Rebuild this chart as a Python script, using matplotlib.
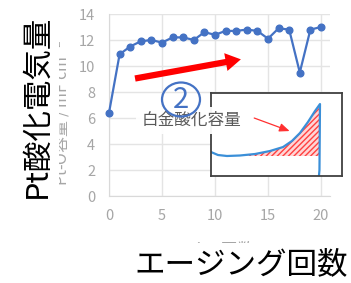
import matplotlib
matplotlib.use('Agg')
import matplotlib.pyplot as plt
from matplotlib.patches import Ellipse

plt.rcParams['font.family'] = ['Noto Sans CJK JP', 'DejaVu Sans']

# main series: Pt oxide charge vs aging cycles
cycles = list(range(21))
charge = [6.4, 10.9, 11.5, 11.9, 12.0, 11.8, 12.2, 12.2, 12.0, 12.6, 12.4,
          12.7, 12.7, 12.8, 12.7, 12.1, 12.9, 12.8, 9.5, 12.8, 13.0]
xticks = [0, 5, 10, 15, 20]
yticks = [0, 2, 4, 6, 8, 10, 12, 14]

# inset sketch (schematic CV curve, axes fraction units)
inset_x = [0.0, 0.053, 0.122, 0.221, 0.336, 0.45, 0.55, 0.618, 0.679, 0.74, 0.794, 0.832, 0.828, 0.824]
inset_y = [0.289, 0.253, 0.241, 0.247, 0.265, 0.301, 0.349, 0.422, 0.518, 0.65, 0.783, 0.867, 0.072, 0.0]
fill_x = [0.122, 0.221, 0.336, 0.45, 0.55, 0.618, 0.679, 0.74, 0.794, 0.832]
fill_y = [0.241, 0.247, 0.265, 0.301, 0.349, 0.422, 0.518, 0.65, 0.783, 0.867]
base_y = 0.241

W, H = 351, 283
def fx(px): return px / W
def fy(py): return 1 - py / H

fig = plt.figure(figsize=(3.51, 2.83), dpi=100)
fig.patch.set_facecolor('white')

blue = '#4472C4'
grey = '#A6A6A6'

ax = fig.add_axes([fx(109), fy(196), fx(330) - fx(109), fy(14) - fy(196)])
ax.plot(cycles, charge, color=blue, lw=1.6, marker='o', ms=4.8, clip_on=False, zorder=3)
ax.set_xlim(0, 20.85)
ax.set_ylim(0, 14)
ax.set_xticks(xticks)
ax.set_yticks(yticks)
ax.grid(True, color='#E4E4E4', lw=1.0)
ax.set_axisbelow(True)
for s in ['top', 'right']:
    ax.spines[s].set_visible(False)
for s in ['left', 'bottom']:
    ax.spines[s].set_color('#D9D9D9')
ax.tick_params(length=0, labelsize=10.5, labelcolor=grey, pad=9)
ax.tick_params(axis='y', pad=10)

# original small axis titles, partly covered
fig.text(fx(216), fy(250), 'Aging回数', fontsize=12, color=grey, ha='center', va='center')
fig.text(fx(62), fy(113), 'Pt-O容量 / mF cm$^{-2}$', fontsize=11.5, color=grey,
         rotation=90, ha='center', va='center')

# big overlay titles with white boxes
fig.text(fx(241), fy(265), 'エージング回数', fontsize=22, color='black', ha='center', va='center',
         bbox=dict(boxstyle='square,pad=0.2', fc='white', ec='none'))
fig.text(fx(37), fy(106), 'Pt酸化電気量', fontsize=22, color='black', rotation=90,
         ha='center', va='center',
         bbox=dict(boxstyle='square,pad=0.2', fc='white', ec='none'))

# red trend arrow
ax.annotate('', xy=(12.7, 10.55), xytext=(2.2, 9.0), xycoords='data',
            arrowprops=dict(arrowstyle='simple,head_width=1.3,head_length=1.1,tail_width=0.45',
                            fc='#FF0000', ec='#FF0000', lw=0), annotation_clip=False)

# inset box
iax = fig.add_axes([fx(211), fy(176), fx(342) - fx(211), fy(93) - fy(176)])
iax.set_xlim(0, 1)
iax.set_ylim(0, 1)
iax.set_xticks([])
iax.set_yticks([])
for s in iax.spines.values():
    s.set_color('#404040')
    s.set_linewidth(1.3)
iax.fill_between(fill_x, [base_y] * len(fill_x), fill_y, facecolor='#FFD6D6',
                 edgecolor='#FF4040', hatch='//////', linewidth=0)
iax.plot(inset_x, inset_y, color='#3A8FD8', lw=1.6)
iax.annotate('', xy=(0.62, 0.53), xytext=(0.31, 0.71),
             arrowprops=dict(arrowstyle='-|>,head_width=0.25,head_length=0.6',
                             color='#FF3030', lw=0.9))

# inset label with white box
fig.text(fx(191), fy(120), '白金酸化容量', fontsize=12, color='#595959', ha='center', va='center',
         bbox=dict(boxstyle='square,pad=0.3', fc='white', ec='none', alpha=0.95), zorder=5)

# circled number
fig.add_artist(Ellipse((fx(181), fy(99.5)), fx(38), 34 / H, transform=fig.transFigure,
                       fc='none', ec=blue, lw=1.6, zorder=6))
fig.text(fx(181), fy(100), '2', fontsize=21, color=blue, ha='center', va='center', zorder=6)

fig.savefig('out.png', dpi=100)
